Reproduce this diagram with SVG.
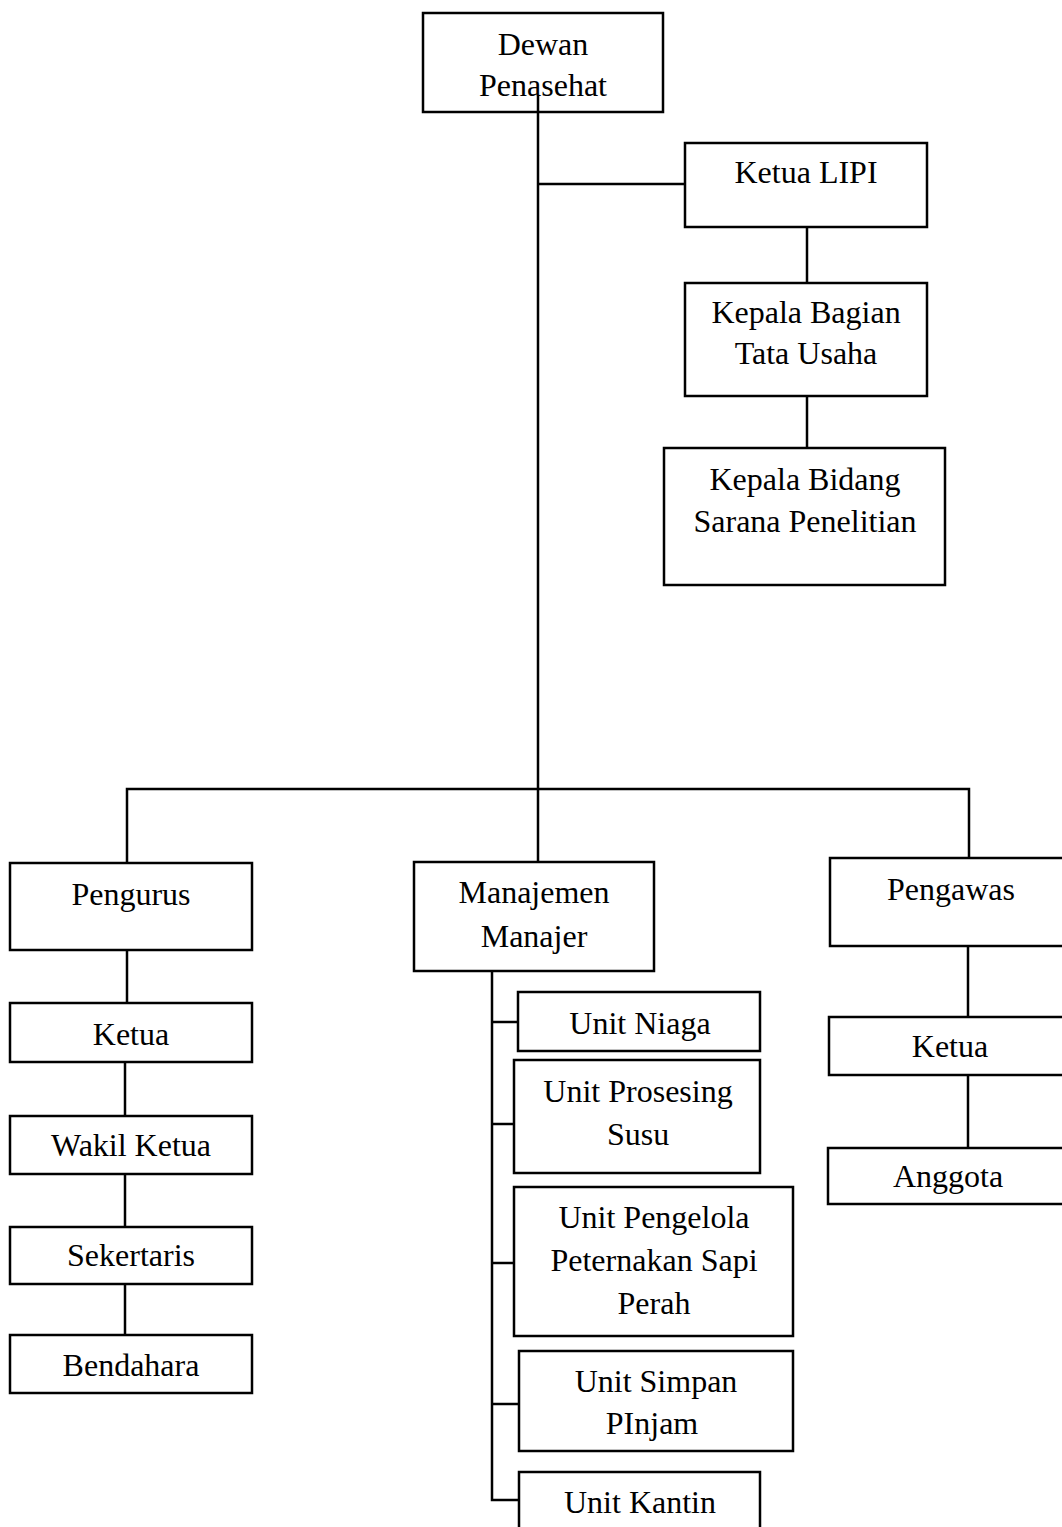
<svg xmlns="http://www.w3.org/2000/svg" width="1062" height="1527" viewBox="0 0 1062 1527">
<style>
rect{fill:#fff;stroke:#000;stroke-width:2.5}
text{font-family:"Liberation Serif","Times New Roman",serif;font-size:32px;fill:#000;text-anchor:middle}
#connectors path,#connectors line{stroke:#000;stroke-width:2.5;fill:none}
</style>
<rect x="0" y="0" width="1062" height="1527" style="stroke:none"/>
<g id="connectors">
<line x1="538" y1="96" x2="538" y2="863"/>
<line x1="538" y1="184" x2="685" y2="184"/>
<line x1="807" y1="227" x2="807" y2="283"/>
<line x1="807" y1="396" x2="807" y2="448"/>
<path d="M127 863 V789 H969 V858"/>
<line x1="127" y1="950" x2="127" y2="1003"/>
<line x1="125" y1="1062" x2="125" y2="1116"/>
<line x1="125" y1="1174" x2="125" y2="1227"/>
<line x1="125" y1="1284" x2="125" y2="1335"/>
<path d="M492 971 V1500 H519"/>
<line x1="492" y1="1022" x2="518" y2="1022"/>
<line x1="492" y1="1124" x2="514" y2="1124"/>
<line x1="492" y1="1263" x2="520" y2="1263"/>
<line x1="492" y1="1404" x2="519" y2="1404"/>
<line x1="968" y1="946" x2="968" y2="1017"/>
<line x1="968" y1="1075" x2="968" y2="1148"/>
</g>
<g id="dewan"><rect x="423" y="13" width="240" height="99" style="fill:none"/><text x="543" y="55">Dewan</text><text x="543" y="96">Penasehat</text></g>
<g id="ketua-lipi"><rect x="685" y="143" width="242" height="84"/><text x="806" y="183">Ketua LIPI</text></g>
<g id="kabag"><rect x="685" y="283" width="242" height="113"/><text x="806" y="323">Kepala Bagian</text><text x="806" y="364">Tata Usaha</text></g>
<g id="kabid"><rect x="664" y="448" width="281" height="137"/><text x="805" y="490">Kepala Bidang</text><text x="805" y="532">Sarana Penelitian</text></g>
<g id="pengurus"><rect x="10" y="863" width="242" height="87"/><text x="131" y="905">Pengurus</text></g>
<g id="p-ketua"><rect x="10" y="1003" width="242" height="59"/><text x="131" y="1045">Ketua</text></g>
<g id="wakil"><rect x="10" y="1116" width="242" height="58"/><text x="131" y="1156">Wakil Ketua</text></g>
<g id="sekertaris"><rect x="10" y="1227" width="242" height="57"/><text x="131" y="1266">Sekertaris</text></g>
<g id="bendahara"><rect x="10" y="1335" width="242" height="58"/><text x="131" y="1376">Bendahara</text></g>
<g id="manajemen"><rect x="414" y="862" width="240" height="109"/><text x="534" y="903">Manajemen</text><text x="534" y="947">Manajer</text></g>
<g id="niaga"><rect x="518" y="992" width="242" height="59"/><text x="640" y="1034">Unit Niaga</text></g>
<g id="prosesing"><rect x="514" y="1060" width="246" height="113"/><text x="638" y="1102">Unit Prosesing</text><text x="638" y="1145">Susu</text></g>
<g id="pengelola"><rect x="514" y="1187" width="279" height="149"/><text x="654" y="1228">Unit Pengelola</text><text x="654" y="1271">Peternakan Sapi</text><text x="654" y="1314">Perah</text></g>
<g id="simpan"><rect x="519" y="1351" width="274" height="100"/><text x="656" y="1392">Unit Simpan</text><text x="652" y="1434">PInjam</text></g>
<g id="kantin"><rect x="519" y="1472" width="241" height="70"/><text x="640" y="1513">Unit Kantin</text></g>
<g id="pengawas"><rect x="830" y="858" width="250" height="88"/><text x="951" y="900">Pengawas</text></g>
<g id="w-ketua"><rect x="829" y="1017" width="250" height="58"/><text x="950" y="1057">Ketua</text></g>
<g id="anggota"><rect x="828" y="1148" width="250" height="56"/><text x="948" y="1187">Anggota</text></g>
</svg>
